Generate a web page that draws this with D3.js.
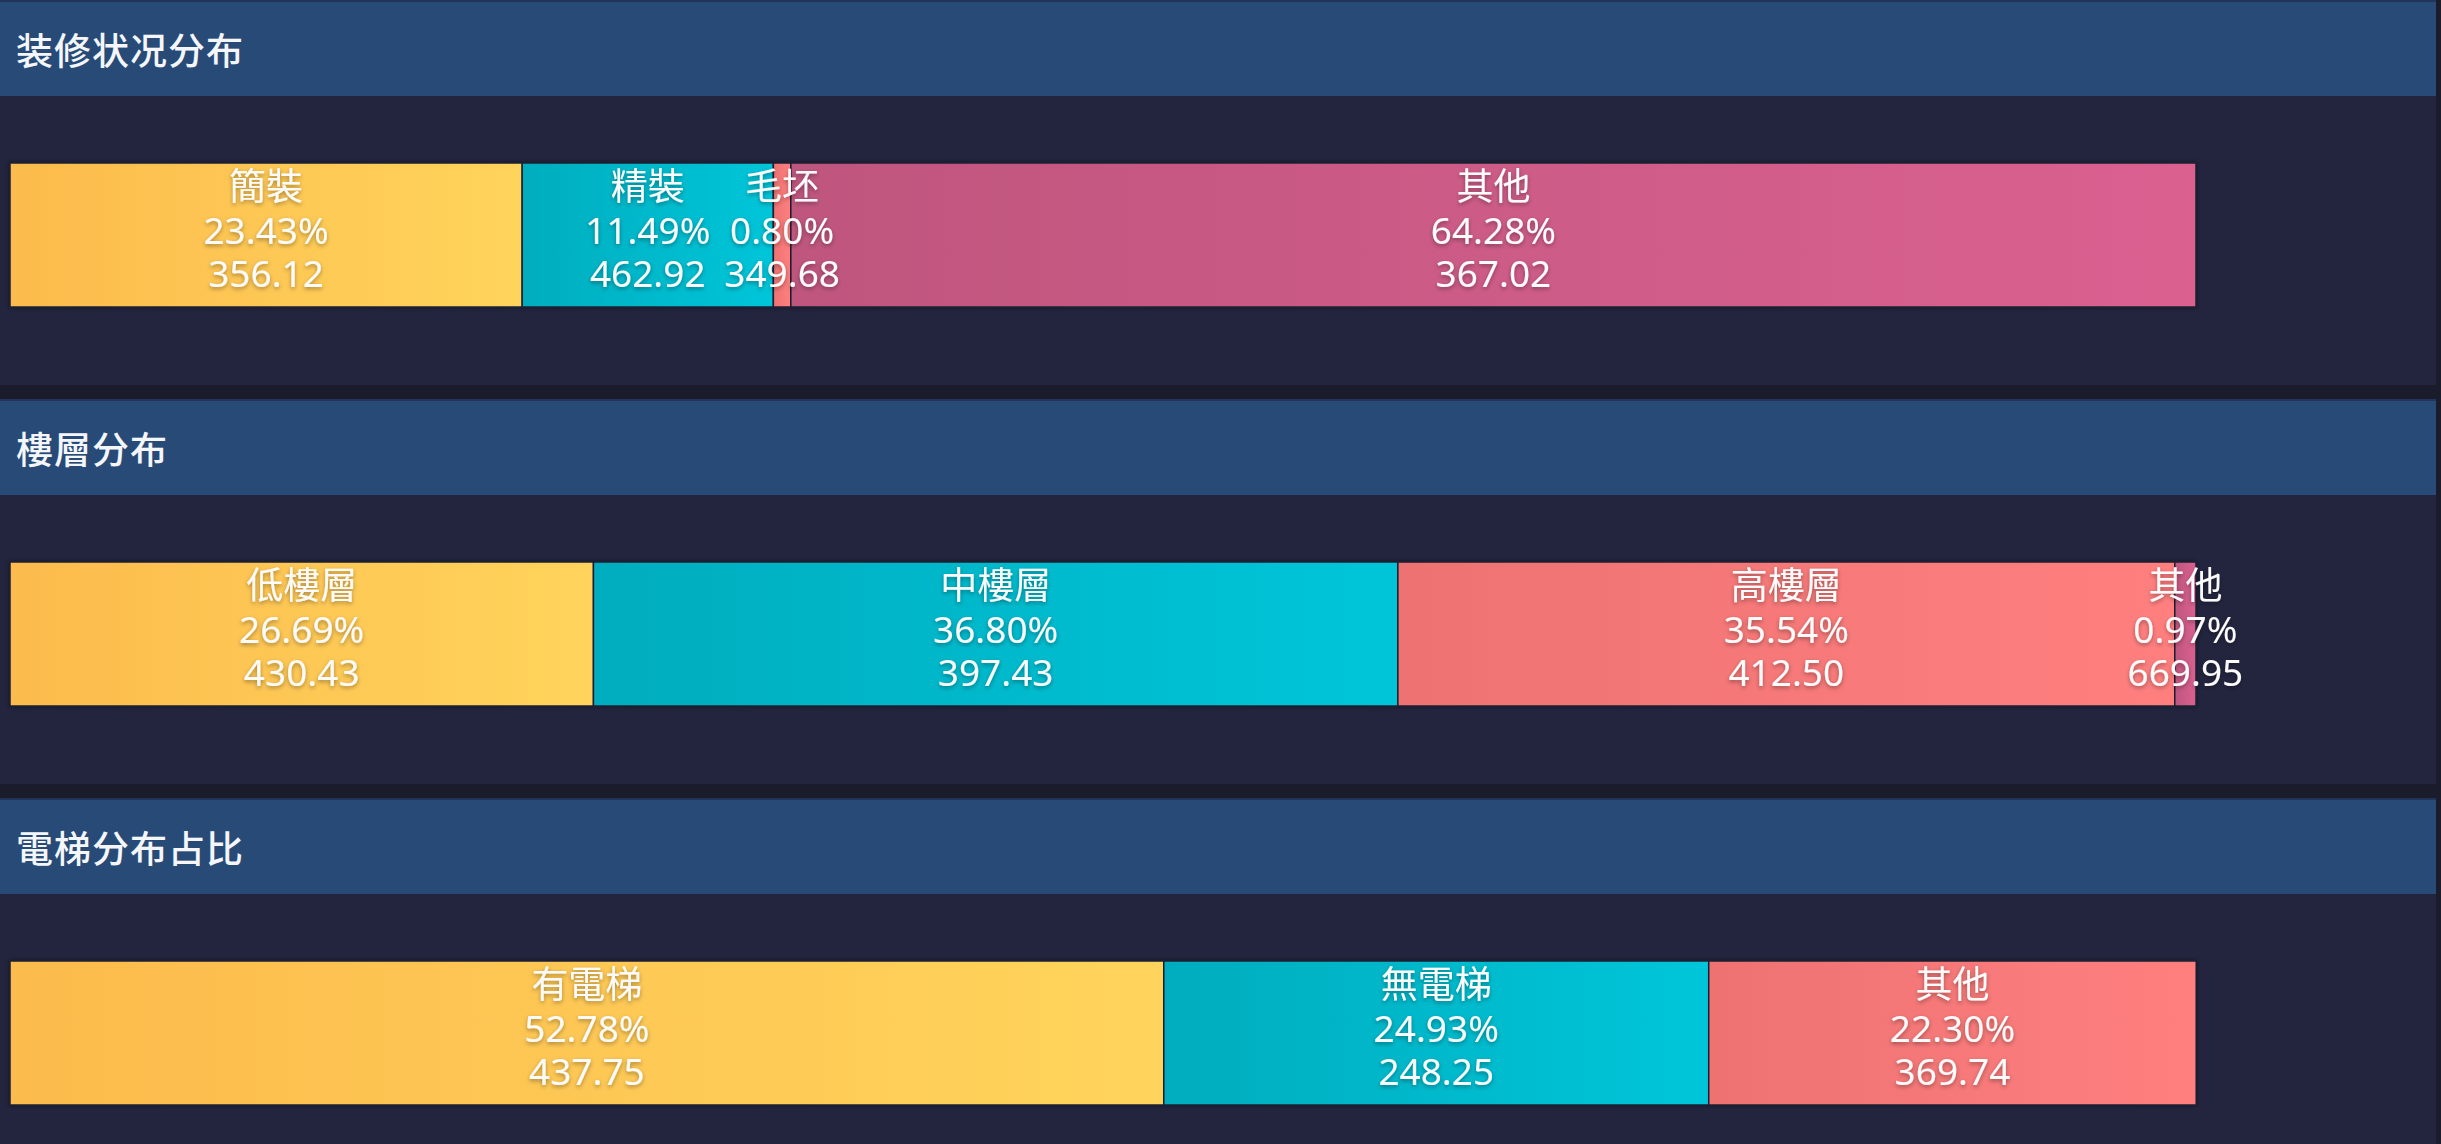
<!DOCTYPE html>
<html lang="zh">
<head>
<meta charset="utf-8">
<title>分布</title>
<script src="https://d3js.org/d3.v7.min.js"></script>
<style>
  html, body { margin: 0; padding: 0; background: #1b1c2b; }
  svg { display: block; }
  .title { font-family: "Noto Sans CJK SC", "Noto Sans", sans-serif; font-size: 37px; font-weight: 500; letter-spacing: 1px; fill: #f4f6fa; }
  .lbl { font-family: "Noto Sans", "Noto Sans CJK TC", sans-serif; font-size: 37px; fill: #fbfbfb; }
</style>
</head>
<body>
<div id="chart"></div>
<script>
// panel titles
const titles = ["装修状况分布", "樓層分布", "電梯分布占比"];

// 装修状况
const decorNames = ["簡裝", "精裝", "毛坯", "其他"];
const decorPct = [23.43, 11.49, 0.80, 64.28];
const decorPrice = [356.12, 462.92, 349.68, 367.02];

// 樓層
const floorNames = ["低樓層", "中樓層", "高樓層", "其他"];
const floorPct = [26.69, 36.80, 35.54, 0.97];
const floorPrice = [430.43, 397.43, 412.50, 669.95];

// 電梯
const liftNames = ["有電梯", "無電梯", "其他"];
const liftPct = [52.78, 24.93, 22.30];
const liftPrice = [437.75, 248.25, 369.74];

const panels = [
  {names: decorNames, pct: decorPct, price: decorPrice},
  {names: floorNames, pct: floorPct, price: floorPrice},
  {names: liftNames, pct: liftPct, price: liftPrice}
];

// gradient colours (left -> right) per segment index
const palette = [
  ["#fcbb4d", "#ffd45b"],
  ["#03adbe", "#00c5d9"],
  ["#ee7272", "#ff7f7f"],
  ["#bf567e", "#da6090"]
];

const W = 2441, H = 1144;
const panelW = 2436, panelGap = 399, panelH = 385, headH = 96;
const barTop = 163, barH = 144;

const svg = d3.select("#chart").append("svg")
  .attr("width", W).attr("height", H);

const defs = svg.append("defs");
palette.forEach(function(c, i) {
  const g = defs.append("linearGradient")
    .attr("id", "grad" + i)
    .attr("x1", "0%").attr("x2", "100%").attr("y1", "0%").attr("y2", "0%");
  g.append("stop").attr("offset", "0%").attr("stop-color", c[0]);
  g.append("stop").attr("offset", "100%").attr("stop-color", c[1]);
});
const shadow = defs.append("filter").attr("id", "tshadow")
  .attr("x", "-10%").attr("y", "-30%").attr("width", "120%").attr("height", "160%");
shadow.append("feDropShadow")
  .attr("dx", 0).attr("dy", 2).attr("stdDeviation", 2)
  .attr("flood-color", "#000").attr("flood-opacity", 0.35);
const barShadow = defs.append("filter").attr("id", "bshadow")
  .attr("x", "-2%").attr("y", "-10%").attr("width", "104%").attr("height", "120%");
barShadow.append("feDropShadow")
  .attr("dx", 0).attr("dy", 0).attr("stdDeviation", 2)
  .attr("flood-color", "#000").attr("flood-opacity", 0.5);

const x = d3.scaleLinear().domain([0, 100]).range([10, 2196]);

panels.forEach(function(p, pi) {
  const top = pi * panelGap;
  const g = svg.append("g").attr("transform", `translate(0,${top})`);

  g.append("rect")
    .attr("x", 0).attr("y", 0)
    .attr("width", panelW).attr("height", pi === 2 ? H - top : panelH)
    .attr("fill", "#23253f");
  g.append("rect")
    .attr("x", 0).attr("y", 0)
    .attr("width", panelW).attr("height", headH)
    .attr("fill", "#274a77");
  g.append("rect")
    .attr("x", 0).attr("y", 0)
    .attr("width", panelW).attr("height", 2)
    .attr("fill", "#22345a");

  g.append("text")
    .attr("class", "title")
    .attr("x", 16).attr("y", 49)
    .attr("dominant-baseline", "central")
    .text(titles[pi]);

  // stack the segments
  const row = {};
  p.names.forEach(function(n, i) { row["k" + i] = p.pct[i]; });
  const keys = p.names.map(function(n, i) { return "k" + i; });
  const stacked = d3.stack().keys(keys)([row]);

  const segs = stacked.map(function(s, i) {
    return {i: i, x0: s[0][0], x1: s[0][1], name: p.names[i], pct: p.pct[i], price: p.price[i]};
  });

  const bars = g.append("g").attr("filter", "url(#bshadow)");
  bars.selectAll("rect")
    .data(segs)
    .join("rect")
      .attr("x", function(d) { return x(d.x0); })
      .attr("y", barTop)
      .attr("width", function(d) { return x(d.x1) - x(d.x0); })
      .attr("height", barH)
      .attr("fill", function(d) { return "url(#grad" + d.i + ")"; })
      .attr("stroke", "#1e1f33")
      .attr("stroke-width", 1.5);

  const lbl = g.append("g").attr("filter", "url(#tshadow)");
  const t = lbl.selectAll("text")
    .data(segs)
    .join("text")
      .attr("class", "lbl")
      .attr("text-anchor", "middle")
      .attr("x", function(d) { return (x(d.x0) + x(d.x1)) / 2; });
  t.append("tspan")
    .attr("x", function(d) { return (x(d.x0) + x(d.x1)) / 2; })
    .attr("y", barTop + 37)
    .text(function(d) { return d.name; });
  t.append("tspan")
    .attr("x", function(d) { return (x(d.x0) + x(d.x1)) / 2; })
    .attr("y", barTop + 81)
    .text(function(d) { return d.pct.toFixed(2) + "%"; });
  t.append("tspan")
    .attr("x", function(d) { return (x(d.x0) + x(d.x1)) / 2; })
    .attr("y", barTop + 124)
    .text(function(d) { return d.price.toFixed(2); });
});
</script>
</body>
</html>
